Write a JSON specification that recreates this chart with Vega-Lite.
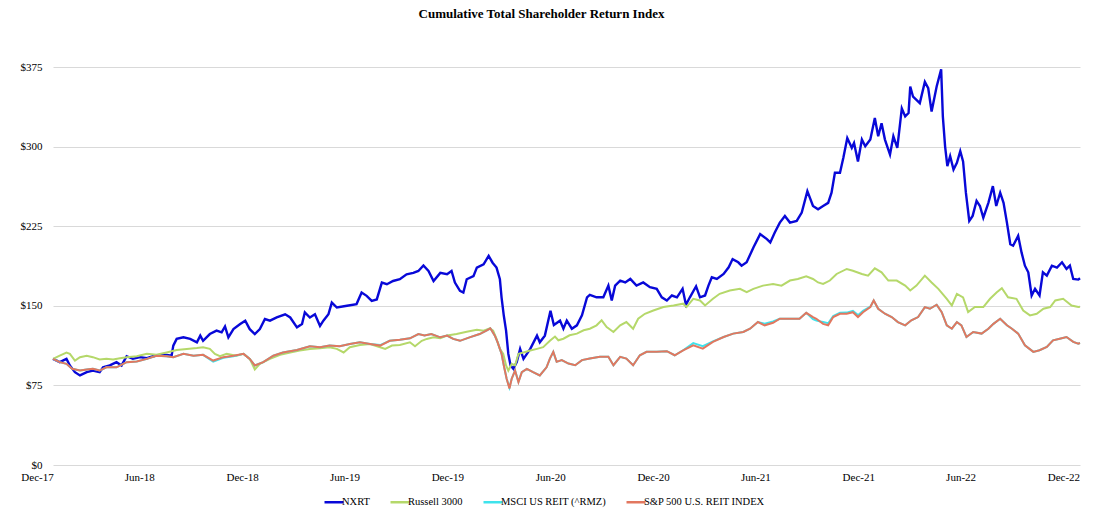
{
  "$schema": "https://vega.github.io/schema/vega-lite/v6.json",
  "width": 1027,
  "height": 398,
  "autosize": {"type": "none"},
  "padding": {"left": 53, "top": 67, "right": 15, "bottom": 46},
  "background": "white",
  "title": {
    "text": "Cumulative Total Shareholder Return Index",
    "font": "Liberation Serif",
    "fontSize": 13,
    "fontWeight": "bold",
    "color": "black",
    "anchor": "middle",
    "frame": "group",
    "offset": 40,
    "dx": -25
  },
  "config": {
    "view": {"stroke": null},
    "font": "Liberation Serif"
  },
  "datasets": {
    "nxrt": [
      {"d": "2017-12-29", "v": 100}, {"d": "2018-01-10", "v": 96.9}, {"d": "2018-01-22", "v": 100}, {"d": "2018-01-28", "v": 93.8},
      {"d": "2018-02-06", "v": 87.5}, {"d": "2018-02-15", "v": 84.4}, {"d": "2018-02-27", "v": 87.5}, {"d": "2018-03-10", "v": 89},
      {"d": "2018-03-22", "v": 87.5}, {"d": "2018-03-28", "v": 92}, {"d": "2018-04-09", "v": 93.8}, {"d": "2018-04-21", "v": 96.9},
      {"d": "2018-04-30", "v": 93.8}, {"d": "2018-05-09", "v": 102.5}, {"d": "2018-05-20", "v": 100}, {"d": "2018-06-02", "v": 101.6},
      {"d": "2018-06-14", "v": 100.6}, {"d": "2018-06-25", "v": 102.5}, {"d": "2018-07-07", "v": 103.8}, {"d": "2018-07-19", "v": 103.8},
      {"d": "2018-07-28", "v": 103}, {"d": "2018-07-31", "v": 112.5}, {"d": "2018-08-06", "v": 118.8}, {"d": "2018-08-18", "v": 120.3},
      {"d": "2018-08-30", "v": 118.8}, {"d": "2018-09-11", "v": 115.6}, {"d": "2018-09-17", "v": 121.9}, {"d": "2018-09-22", "v": 117},
      {"d": "2018-10-04", "v": 123.4}, {"d": "2018-10-16", "v": 126.6}, {"d": "2018-10-25", "v": 125}, {"d": "2018-10-31", "v": 130.6},
      {"d": "2018-11-06", "v": 120.3}, {"d": "2018-11-15", "v": 128}, {"d": "2018-11-27", "v": 132.8}, {"d": "2018-12-06", "v": 136},
      {"d": "2018-12-14", "v": 128}, {"d": "2018-12-23", "v": 123.4}, {"d": "2019-01-01", "v": 128}, {"d": "2019-01-10", "v": 137.5},
      {"d": "2019-01-19", "v": 136}, {"d": "2019-01-31", "v": 139}, {"d": "2019-02-15", "v": 142}, {"d": "2019-02-24", "v": 139},
      {"d": "2019-03-08", "v": 129.7}, {"d": "2019-03-17", "v": 132.8}, {"d": "2019-03-22", "v": 143.8}, {"d": "2019-03-31", "v": 139},
      {"d": "2019-04-09", "v": 142}, {"d": "2019-04-18", "v": 131}, {"d": "2019-04-24", "v": 136}, {"d": "2019-05-03", "v": 142},
      {"d": "2019-05-09", "v": 153}, {"d": "2019-05-18", "v": 148.4}, {"d": "2019-06-05", "v": 150}, {"d": "2019-06-22", "v": 151.6},
      {"d": "2019-07-01", "v": 162.5}, {"d": "2019-07-10", "v": 159.4}, {"d": "2019-07-19", "v": 154.7}, {"d": "2019-07-28", "v": 156},
      {"d": "2019-08-06", "v": 171.9}, {"d": "2019-08-15", "v": 170.3}, {"d": "2019-08-26", "v": 173.4}, {"d": "2019-09-07", "v": 175},
      {"d": "2019-09-19", "v": 179.7}, {"d": "2019-10-01", "v": 181}, {"d": "2019-10-10", "v": 182.8}, {"d": "2019-10-19", "v": 188},
      {"d": "2019-10-28", "v": 182.8}, {"d": "2019-11-06", "v": 173.4}, {"d": "2019-11-18", "v": 181}, {"d": "2019-11-30", "v": 179.7},
      {"d": "2019-12-08", "v": 182.8}, {"d": "2019-12-14", "v": 171.9}, {"d": "2019-12-23", "v": 164}, {"d": "2019-12-29", "v": 162.5},
      {"d": "2020-01-04", "v": 175}, {"d": "2020-01-16", "v": 178}, {"d": "2020-01-22", "v": 186}, {"d": "2020-02-03", "v": 189},
      {"d": "2020-02-12", "v": 197}, {"d": "2020-02-19", "v": 190.6}, {"d": "2020-02-26", "v": 186}, {"d": "2020-03-03", "v": 175},
      {"d": "2020-03-06", "v": 157.8}, {"d": "2020-03-10", "v": 140.6}, {"d": "2020-03-14", "v": 126.6}, {"d": "2020-03-18", "v": 104.7},
      {"d": "2020-03-22", "v": 93.8}, {"d": "2020-03-27", "v": 90.6}, {"d": "2020-04-02", "v": 96.9}, {"d": "2020-04-08", "v": 109.4},
      {"d": "2020-04-14", "v": 100}, {"d": "2020-04-26", "v": 109.4}, {"d": "2020-05-08", "v": 121.9}, {"d": "2020-05-13", "v": 115.6},
      {"d": "2020-05-22", "v": 121.9}, {"d": "2020-06-01", "v": 145.3}, {"d": "2020-06-07", "v": 132}, {"d": "2020-06-18", "v": 136},
      {"d": "2020-06-24", "v": 128.4}, {"d": "2020-06-30", "v": 136}, {"d": "2020-07-09", "v": 128.4}, {"d": "2020-07-18", "v": 131.6},
      {"d": "2020-07-27", "v": 141}, {"d": "2020-08-05", "v": 158}, {"d": "2020-08-10", "v": 160.3}, {"d": "2020-08-22", "v": 158},
      {"d": "2020-09-03", "v": 158}, {"d": "2020-09-12", "v": 169}, {"d": "2020-09-18", "v": 155}, {"d": "2020-09-24", "v": 169},
      {"d": "2020-10-03", "v": 173.8}, {"d": "2020-10-12", "v": 172}, {"d": "2020-10-21", "v": 175.3}, {"d": "2020-11-01", "v": 169},
      {"d": "2020-11-13", "v": 172}, {"d": "2020-11-25", "v": 167.5}, {"d": "2020-12-07", "v": 166}, {"d": "2020-12-16", "v": 158},
      {"d": "2020-12-25", "v": 155}, {"d": "2021-01-03", "v": 159.7}, {"d": "2021-01-12", "v": 158}, {"d": "2021-01-22", "v": 166},
      {"d": "2021-01-28", "v": 151}, {"d": "2021-02-04", "v": 158}, {"d": "2021-02-15", "v": 168.4}, {"d": "2021-02-22", "v": 158},
      {"d": "2021-03-03", "v": 159.7}, {"d": "2021-03-09", "v": 169}, {"d": "2021-03-15", "v": 176.9}, {"d": "2021-03-24", "v": 175.3},
      {"d": "2021-04-05", "v": 180}, {"d": "2021-04-14", "v": 186.3}, {"d": "2021-04-21", "v": 194}, {"d": "2021-05-01", "v": 191},
      {"d": "2021-05-07", "v": 187.8}, {"d": "2021-05-16", "v": 191}, {"d": "2021-05-28", "v": 205}, {"d": "2021-06-09", "v": 217.5},
      {"d": "2021-06-21", "v": 212.8}, {"d": "2021-06-27", "v": 209.7}, {"d": "2021-07-05", "v": 219}, {"d": "2021-07-14", "v": 228.4},
      {"d": "2021-07-23", "v": 234.7}, {"d": "2021-08-01", "v": 228.4}, {"d": "2021-08-13", "v": 230}, {"d": "2021-08-22", "v": 237.8},
      {"d": "2021-09-01", "v": 258}, {"d": "2021-09-11", "v": 244}, {"d": "2021-09-20", "v": 241}, {"d": "2021-09-29", "v": 244},
      {"d": "2021-10-08", "v": 247}, {"d": "2021-10-14", "v": 256.6}, {"d": "2021-10-20", "v": 275.3}, {"d": "2021-10-29", "v": 275.3},
      {"d": "2021-11-04", "v": 289.4}, {"d": "2021-11-11", "v": 308}, {"d": "2021-11-19", "v": 298.8}, {"d": "2021-11-23", "v": 303.4},
      {"d": "2021-11-30", "v": 286}, {"d": "2021-12-07", "v": 306.6}, {"d": "2021-12-13", "v": 300.3}, {"d": "2021-12-22", "v": 306.6},
      {"d": "2021-12-30", "v": 326.9}, {"d": "2022-01-05", "v": 309.7}, {"d": "2022-01-11", "v": 322}, {"d": "2022-01-17", "v": 306.6},
      {"d": "2022-01-26", "v": 292.5}, {"d": "2022-02-01", "v": 309.7}, {"d": "2022-02-08", "v": 298.8}, {"d": "2022-02-16", "v": 336},
      {"d": "2022-02-22", "v": 328.4}, {"d": "2022-02-28", "v": 331.6}, {"d": "2022-03-03", "v": 356.6}, {"d": "2022-03-08", "v": 347},
      {"d": "2022-03-14", "v": 344}, {"d": "2022-03-20", "v": 341}, {"d": "2022-03-29", "v": 361}, {"d": "2022-04-04", "v": 355},
      {"d": "2022-04-10", "v": 333}, {"d": "2022-04-19", "v": 356.6}, {"d": "2022-04-27", "v": 372.8}, {"d": "2022-04-30", "v": 328.4},
      {"d": "2022-05-04", "v": 300.3}, {"d": "2022-05-08", "v": 281.6}, {"d": "2022-05-13", "v": 291}, {"d": "2022-05-19", "v": 278.4},
      {"d": "2022-05-25", "v": 284.7}, {"d": "2022-05-31", "v": 295.6}, {"d": "2022-06-05", "v": 286}, {"d": "2022-06-10", "v": 256.6},
      {"d": "2022-06-16", "v": 230}, {"d": "2022-06-22", "v": 234.7}, {"d": "2022-06-29", "v": 248.8}, {"d": "2022-07-05", "v": 244},
      {"d": "2022-07-11", "v": 233}, {"d": "2022-07-20", "v": 247}, {"d": "2022-07-28", "v": 262.8}, {"d": "2022-08-03", "v": 244},
      {"d": "2022-08-10", "v": 256.6}, {"d": "2022-08-16", "v": 247}, {"d": "2022-08-22", "v": 228.4}, {"d": "2022-08-28", "v": 208},
      {"d": "2022-09-02", "v": 206.6}, {"d": "2022-09-11", "v": 216}, {"d": "2022-09-17", "v": 200.3}, {"d": "2022-09-23", "v": 187.8},
      {"d": "2022-09-29", "v": 181.6}, {"d": "2022-10-05", "v": 159.7}, {"d": "2022-10-11", "v": 166}, {"d": "2022-10-19", "v": 159.7},
      {"d": "2022-10-25", "v": 181.6}, {"d": "2022-11-01", "v": 178.4}, {"d": "2022-11-10", "v": 187.8}, {"d": "2022-11-19", "v": 186},
      {"d": "2022-11-28", "v": 191}, {"d": "2022-12-06", "v": 184.7}, {"d": "2022-12-12", "v": 187.8}, {"d": "2022-12-18", "v": 175.3},
      {"d": "2022-12-27", "v": 174.7}, {"d": "2022-12-30", "v": 176}
    ],
    "r3000": [
      {"d": "2017-12-29", "v": 100}, {"d": "2018-01-10", "v": 103}, {"d": "2018-01-22", "v": 106}, {"d": "2018-01-28", "v": 104.7},
      {"d": "2018-02-06", "v": 98.4}, {"d": "2018-02-15", "v": 101.6}, {"d": "2018-02-27", "v": 103}, {"d": "2018-03-10", "v": 101.6},
      {"d": "2018-03-22", "v": 99.4}, {"d": "2018-04-03", "v": 100}, {"d": "2018-04-15", "v": 99.4}, {"d": "2018-04-27", "v": 100.6},
      {"d": "2018-05-09", "v": 101.6}, {"d": "2018-05-27", "v": 102.5}, {"d": "2018-06-14", "v": 104.7}, {"d": "2018-07-01", "v": 103.8},
      {"d": "2018-07-19", "v": 106}, {"d": "2018-08-06", "v": 108.4}, {"d": "2018-08-24", "v": 109.4}, {"d": "2018-09-11", "v": 110.3},
      {"d": "2018-09-22", "v": 111}, {"d": "2018-10-04", "v": 109.4}, {"d": "2018-10-13", "v": 104.7}, {"d": "2018-10-22", "v": 102.5},
      {"d": "2018-11-03", "v": 104.7}, {"d": "2018-11-20", "v": 103}, {"d": "2018-12-03", "v": 104.7}, {"d": "2018-12-14", "v": 100},
      {"d": "2018-12-23", "v": 90}, {"d": "2019-01-01", "v": 95.3}, {"d": "2019-01-19", "v": 100}, {"d": "2019-02-06", "v": 103.8},
      {"d": "2019-02-24", "v": 106}, {"d": "2019-03-13", "v": 107.8}, {"d": "2019-03-31", "v": 109.4}, {"d": "2019-04-18", "v": 110},
      {"d": "2019-05-05", "v": 111}, {"d": "2019-05-18", "v": 109.4}, {"d": "2019-05-30", "v": 106}, {"d": "2019-06-10", "v": 111},
      {"d": "2019-06-28", "v": 113}, {"d": "2019-07-16", "v": 114}, {"d": "2019-08-03", "v": 111}, {"d": "2019-08-12", "v": 109.4},
      {"d": "2019-08-24", "v": 112.5}, {"d": "2019-09-07", "v": 113}, {"d": "2019-09-25", "v": 115.6}, {"d": "2019-10-04", "v": 111.9},
      {"d": "2019-10-16", "v": 117}, {"d": "2019-10-25", "v": 118.8}, {"d": "2019-11-06", "v": 120.3}, {"d": "2019-11-18", "v": 119.4},
      {"d": "2019-11-30", "v": 122}, {"d": "2019-12-17", "v": 123.4}, {"d": "2020-01-04", "v": 125.6}, {"d": "2020-01-22", "v": 127.5},
      {"d": "2020-02-03", "v": 126.6}, {"d": "2020-02-14", "v": 128.8}, {"d": "2020-02-20", "v": 126.6}, {"d": "2020-02-26", "v": 118.8},
      {"d": "2020-03-03", "v": 109.4}, {"d": "2020-03-09", "v": 104.7}, {"d": "2020-03-14", "v": 93.8}, {"d": "2020-03-18", "v": 89},
      {"d": "2020-03-24", "v": 95.3}, {"d": "2020-03-30", "v": 93.8}, {"d": "2020-04-05", "v": 104.7}, {"d": "2020-04-14", "v": 106},
      {"d": "2020-04-26", "v": 107.8}, {"d": "2020-05-08", "v": 109.4}, {"d": "2020-05-19", "v": 111}, {"d": "2020-05-31", "v": 117},
      {"d": "2020-06-09", "v": 121}, {"d": "2020-06-15", "v": 117.5}, {"d": "2020-06-24", "v": 119}, {"d": "2020-07-05", "v": 122.2},
      {"d": "2020-07-18", "v": 123.8}, {"d": "2020-07-30", "v": 126.9}, {"d": "2020-08-10", "v": 128.4}, {"d": "2020-08-22", "v": 131.6},
      {"d": "2020-08-31", "v": 136.3}, {"d": "2020-09-09", "v": 130}, {"d": "2020-09-21", "v": 125.3}, {"d": "2020-10-03", "v": 131.6},
      {"d": "2020-10-14", "v": 134.7}, {"d": "2020-10-26", "v": 128.4}, {"d": "2020-11-04", "v": 137.8}, {"d": "2020-11-16", "v": 142.5},
      {"d": "2020-12-01", "v": 145.6}, {"d": "2020-12-19", "v": 148.8}, {"d": "2021-01-06", "v": 150.3}, {"d": "2021-01-23", "v": 152},
      {"d": "2021-01-29", "v": 148.8}, {"d": "2021-02-10", "v": 156.6}, {"d": "2021-02-22", "v": 155}, {"d": "2021-03-03", "v": 150.3},
      {"d": "2021-03-17", "v": 156.6}, {"d": "2021-03-29", "v": 161.3}, {"d": "2021-04-16", "v": 164.4}, {"d": "2021-05-04", "v": 166},
      {"d": "2021-05-16", "v": 162.8}, {"d": "2021-05-28", "v": 166}, {"d": "2021-06-14", "v": 169}, {"d": "2021-07-02", "v": 170.6},
      {"d": "2021-07-17", "v": 169}, {"d": "2021-08-01", "v": 173.8}, {"d": "2021-08-15", "v": 175.3}, {"d": "2021-08-30", "v": 177.8},
      {"d": "2021-09-11", "v": 175.3}, {"d": "2021-09-20", "v": 172}, {"d": "2021-09-29", "v": 170.6}, {"d": "2021-10-11", "v": 173.8},
      {"d": "2021-10-23", "v": 180}, {"d": "2021-11-10", "v": 184.7}, {"d": "2021-11-21", "v": 183}, {"d": "2021-12-07", "v": 180},
      {"d": "2021-12-18", "v": 178.4}, {"d": "2021-12-30", "v": 185.3}, {"d": "2022-01-11", "v": 181.6}, {"d": "2022-01-23", "v": 173.8},
      {"d": "2022-02-07", "v": 173.8}, {"d": "2022-02-22", "v": 169}, {"d": "2022-03-03", "v": 164.4}, {"d": "2022-03-14", "v": 169},
      {"d": "2022-03-29", "v": 178.4}, {"d": "2022-04-10", "v": 172}, {"d": "2022-04-22", "v": 166}, {"d": "2022-05-07", "v": 156.6},
      {"d": "2022-05-16", "v": 150.3}, {"d": "2022-05-25", "v": 161.3}, {"d": "2022-06-05", "v": 158}, {"d": "2022-06-14", "v": 144},
      {"d": "2022-06-26", "v": 148.8}, {"d": "2022-07-11", "v": 148.8}, {"d": "2022-07-23", "v": 156.6}, {"d": "2022-08-04", "v": 162.8},
      {"d": "2022-08-13", "v": 166.6}, {"d": "2022-08-24", "v": 158}, {"d": "2022-09-08", "v": 156.6}, {"d": "2022-09-20", "v": 145.6},
      {"d": "2022-10-02", "v": 141}, {"d": "2022-10-14", "v": 142.5}, {"d": "2022-10-26", "v": 147.2}, {"d": "2022-11-07", "v": 148.8},
      {"d": "2022-11-16", "v": 155}, {"d": "2022-11-30", "v": 156.6}, {"d": "2022-12-15", "v": 150.3}, {"d": "2022-12-27", "v": 148.8},
      {"d": "2022-12-30", "v": 149}
    ],
    "msci": [
      {"d": "2017-12-29", "v": 100}, {"d": "2018-01-10", "v": 96.9}, {"d": "2018-01-22", "v": 95.3}, {"d": "2018-02-01", "v": 90.6},
      {"d": "2018-02-15", "v": 89}, {"d": "2018-02-27", "v": 90}, {"d": "2018-03-10", "v": 90.6}, {"d": "2018-03-22", "v": 89},
      {"d": "2018-04-03", "v": 92}, {"d": "2018-04-21", "v": 92}, {"d": "2018-05-09", "v": 96.9}, {"d": "2018-05-27", "v": 97.5},
      {"d": "2018-06-14", "v": 100}, {"d": "2018-07-01", "v": 103}, {"d": "2018-07-19", "v": 102.5}, {"d": "2018-07-31", "v": 101.6},
      {"d": "2018-08-18", "v": 104.7}, {"d": "2018-09-05", "v": 103}, {"d": "2018-09-22", "v": 103.8}, {"d": "2018-10-10", "v": 97.5},
      {"d": "2018-10-28", "v": 101}, {"d": "2018-11-15", "v": 102.5}, {"d": "2018-12-03", "v": 104.7}, {"d": "2018-12-14", "v": 100},
      {"d": "2018-12-23", "v": 93.8}, {"d": "2019-01-07", "v": 96.9}, {"d": "2019-01-25", "v": 103}, {"d": "2019-02-11", "v": 106},
      {"d": "2019-03-08", "v": 108.4}, {"d": "2019-03-31", "v": 111.9}, {"d": "2019-04-18", "v": 111}, {"d": "2019-05-05", "v": 112.5},
      {"d": "2019-05-23", "v": 111.9}, {"d": "2019-06-10", "v": 114}, {"d": "2019-06-28", "v": 115.6}, {"d": "2019-07-16", "v": 114},
      {"d": "2019-08-03", "v": 113}, {"d": "2019-08-20", "v": 117}, {"d": "2019-09-07", "v": 118}, {"d": "2019-09-25", "v": 119.4},
      {"d": "2019-10-10", "v": 123.4}, {"d": "2019-10-21", "v": 122}, {"d": "2019-11-02", "v": 123.4}, {"d": "2019-11-18", "v": 120.3},
      {"d": "2019-11-30", "v": 122}, {"d": "2019-12-11", "v": 118.8}, {"d": "2019-12-23", "v": 117}, {"d": "2020-01-09", "v": 120.3},
      {"d": "2020-01-27", "v": 123.4}, {"d": "2020-02-08", "v": 126.6}, {"d": "2020-02-15", "v": 128.8}, {"d": "2020-02-23", "v": 121.9},
      {"d": "2020-02-28", "v": 115.6}, {"d": "2020-03-06", "v": 104.7}, {"d": "2020-03-10", "v": 93.8}, {"d": "2020-03-15", "v": 81.3},
      {"d": "2020-03-20", "v": 73}, {"d": "2020-03-24", "v": 81.3}, {"d": "2020-03-30", "v": 89}, {"d": "2020-04-05", "v": 78.5},
      {"d": "2020-04-11", "v": 87.5}, {"d": "2020-04-20", "v": 90.6}, {"d": "2020-05-01", "v": 87.5}, {"d": "2020-05-13", "v": 84.4},
      {"d": "2020-05-25", "v": 92}, {"d": "2020-05-31", "v": 100.3}, {"d": "2020-06-06", "v": 106.6}, {"d": "2020-06-12", "v": 97.2},
      {"d": "2020-06-21", "v": 98.8}, {"d": "2020-07-03", "v": 95.6}, {"d": "2020-07-15", "v": 94}, {"d": "2020-07-27", "v": 98.8},
      {"d": "2020-08-10", "v": 100.3}, {"d": "2020-08-28", "v": 101.9}, {"d": "2020-09-12", "v": 101.9}, {"d": "2020-09-21", "v": 94},
      {"d": "2020-10-03", "v": 101.9}, {"d": "2020-10-14", "v": 100.3}, {"d": "2020-10-26", "v": 94}, {"d": "2020-11-07", "v": 103.4},
      {"d": "2020-11-19", "v": 106.6}, {"d": "2020-12-07", "v": 106.6}, {"d": "2020-12-25", "v": 107.2}, {"d": "2021-01-08", "v": 103.4},
      {"d": "2021-01-23", "v": 108.1}, {"d": "2021-02-10", "v": 114.8}, {"d": "2021-02-27", "v": 112}, {"d": "2021-03-17", "v": 116.5},
      {"d": "2021-04-05", "v": 120.6}, {"d": "2021-04-22", "v": 123.8}, {"d": "2021-05-10", "v": 125.3}, {"d": "2021-05-22", "v": 128.4},
      {"d": "2021-06-05", "v": 134.7}, {"d": "2021-06-17", "v": 133.2}, {"d": "2021-07-02", "v": 135.2}, {"d": "2021-07-14", "v": 137.8},
      {"d": "2021-08-01", "v": 137.8}, {"d": "2021-08-18", "v": 137.8}, {"d": "2021-08-30", "v": 143.4}, {"d": "2021-09-11", "v": 137.5},
      {"d": "2021-09-17", "v": 136}, {"d": "2021-09-29", "v": 134.8}, {"d": "2021-10-08", "v": 133.6}, {"d": "2021-10-17", "v": 140.4},
      {"d": "2021-10-29", "v": 143.5}, {"d": "2021-11-10", "v": 143.6}, {"d": "2021-11-21", "v": 145.2}, {"d": "2021-11-30", "v": 141.2},
      {"d": "2021-12-09", "v": 145.3}, {"d": "2021-12-22", "v": 149.2}, {"d": "2021-12-28", "v": 155}, {"d": "2022-01-05", "v": 147.2},
      {"d": "2022-01-17", "v": 142.5}, {"d": "2022-01-29", "v": 139.4}, {"d": "2022-02-09", "v": 134.7}, {"d": "2022-02-22", "v": 131.6},
      {"d": "2022-03-05", "v": 136.3}, {"d": "2022-03-17", "v": 139.4}, {"d": "2022-03-29", "v": 148.8}, {"d": "2022-04-07", "v": 147.2},
      {"d": "2022-04-19", "v": 151}, {"d": "2022-04-28", "v": 144}, {"d": "2022-05-07", "v": 131.6}, {"d": "2022-05-16", "v": 128.4},
      {"d": "2022-05-25", "v": 134.7}, {"d": "2022-06-02", "v": 131.6}, {"d": "2022-06-11", "v": 120.6}, {"d": "2022-06-23", "v": 125.3},
      {"d": "2022-07-08", "v": 123.8}, {"d": "2022-07-20", "v": 128.4}, {"d": "2022-07-29", "v": 133}, {"d": "2022-08-10", "v": 137.8},
      {"d": "2022-08-22", "v": 131.6}, {"d": "2022-08-31", "v": 128.4}, {"d": "2022-09-11", "v": 123.8}, {"d": "2022-09-23", "v": 112.8},
      {"d": "2022-10-08", "v": 106.6}, {"d": "2022-10-19", "v": 108.1}, {"d": "2022-11-01", "v": 111.3}, {"d": "2022-11-12", "v": 117.5},
      {"d": "2022-11-24", "v": 119}, {"d": "2022-12-06", "v": 120.6}, {"d": "2022-12-18", "v": 116}, {"d": "2022-12-27", "v": 114.4},
      {"d": "2022-12-30", "v": 115}
    ],
    "sp": [
      {"d": "2017-12-29", "v": 100}, {"d": "2018-01-10", "v": 96.9}, {"d": "2018-01-22", "v": 95.3}, {"d": "2018-02-01", "v": 90.6},
      {"d": "2018-02-15", "v": 89}, {"d": "2018-02-27", "v": 90}, {"d": "2018-03-10", "v": 90.6}, {"d": "2018-03-22", "v": 89},
      {"d": "2018-04-03", "v": 92}, {"d": "2018-04-21", "v": 92}, {"d": "2018-05-09", "v": 96.9}, {"d": "2018-05-27", "v": 97.5},
      {"d": "2018-06-14", "v": 100}, {"d": "2018-07-01", "v": 103}, {"d": "2018-07-19", "v": 102.5}, {"d": "2018-07-31", "v": 101.6},
      {"d": "2018-08-18", "v": 104.7}, {"d": "2018-09-05", "v": 103}, {"d": "2018-09-22", "v": 103.8}, {"d": "2018-10-10", "v": 98.4},
      {"d": "2018-10-28", "v": 101.6}, {"d": "2018-11-15", "v": 103}, {"d": "2018-12-03", "v": 104.7}, {"d": "2018-12-14", "v": 100},
      {"d": "2018-12-23", "v": 93.8}, {"d": "2019-01-07", "v": 96.9}, {"d": "2019-01-25", "v": 103}, {"d": "2019-02-11", "v": 106},
      {"d": "2019-03-08", "v": 108.4}, {"d": "2019-03-31", "v": 111.9}, {"d": "2019-04-18", "v": 111}, {"d": "2019-05-05", "v": 112.5},
      {"d": "2019-05-23", "v": 111.9}, {"d": "2019-06-10", "v": 114}, {"d": "2019-06-28", "v": 115.6}, {"d": "2019-07-16", "v": 114},
      {"d": "2019-08-03", "v": 112.5}, {"d": "2019-08-20", "v": 117}, {"d": "2019-09-07", "v": 118}, {"d": "2019-09-25", "v": 119.4},
      {"d": "2019-10-10", "v": 123.4}, {"d": "2019-10-21", "v": 122}, {"d": "2019-11-02", "v": 123.4}, {"d": "2019-11-18", "v": 120.3},
      {"d": "2019-11-30", "v": 122}, {"d": "2019-12-11", "v": 118.8}, {"d": "2019-12-23", "v": 117}, {"d": "2020-01-09", "v": 120.3},
      {"d": "2020-01-27", "v": 123.4}, {"d": "2020-02-08", "v": 126.6}, {"d": "2020-02-15", "v": 128.8}, {"d": "2020-02-23", "v": 121.9},
      {"d": "2020-02-28", "v": 115.6}, {"d": "2020-03-06", "v": 104.7}, {"d": "2020-03-10", "v": 93.8}, {"d": "2020-03-15", "v": 81.3},
      {"d": "2020-03-20", "v": 72}, {"d": "2020-03-24", "v": 81.3}, {"d": "2020-03-30", "v": 89}, {"d": "2020-04-05", "v": 78},
      {"d": "2020-04-11", "v": 87.5}, {"d": "2020-04-20", "v": 90.6}, {"d": "2020-05-01", "v": 87.5}, {"d": "2020-05-13", "v": 84.4},
      {"d": "2020-05-25", "v": 92}, {"d": "2020-05-31", "v": 100.3}, {"d": "2020-06-06", "v": 106.6}, {"d": "2020-06-12", "v": 97.2},
      {"d": "2020-06-21", "v": 98.8}, {"d": "2020-07-03", "v": 95.6}, {"d": "2020-07-15", "v": 94}, {"d": "2020-07-27", "v": 98.8},
      {"d": "2020-08-10", "v": 100.3}, {"d": "2020-08-28", "v": 101.9}, {"d": "2020-09-12", "v": 101.9}, {"d": "2020-09-21", "v": 94},
      {"d": "2020-10-03", "v": 101.9}, {"d": "2020-10-14", "v": 100.3}, {"d": "2020-10-26", "v": 94}, {"d": "2020-11-07", "v": 103.4},
      {"d": "2020-11-19", "v": 106.6}, {"d": "2020-12-07", "v": 106.6}, {"d": "2020-12-25", "v": 107.2}, {"d": "2021-01-08", "v": 103.4},
      {"d": "2021-01-23", "v": 108.1}, {"d": "2021-02-10", "v": 112.8}, {"d": "2021-02-27", "v": 109.7}, {"d": "2021-03-17", "v": 116},
      {"d": "2021-04-05", "v": 120.6}, {"d": "2021-04-22", "v": 123.8}, {"d": "2021-05-10", "v": 125.3}, {"d": "2021-05-22", "v": 128.4},
      {"d": "2021-06-05", "v": 134.7}, {"d": "2021-06-17", "v": 131.6}, {"d": "2021-07-02", "v": 134}, {"d": "2021-07-14", "v": 137.8},
      {"d": "2021-08-01", "v": 137.8}, {"d": "2021-08-18", "v": 137.8}, {"d": "2021-08-30", "v": 143.4}, {"d": "2021-09-11", "v": 139.4},
      {"d": "2021-09-17", "v": 137.8}, {"d": "2021-09-29", "v": 133}, {"d": "2021-10-08", "v": 131.6}, {"d": "2021-10-17", "v": 139.4},
      {"d": "2021-10-29", "v": 142.5}, {"d": "2021-11-10", "v": 142.5}, {"d": "2021-11-21", "v": 144}, {"d": "2021-11-30", "v": 139.4},
      {"d": "2021-12-09", "v": 144}, {"d": "2021-12-22", "v": 148.8}, {"d": "2021-12-28", "v": 155}, {"d": "2022-01-05", "v": 147.2},
      {"d": "2022-01-17", "v": 142.5}, {"d": "2022-01-29", "v": 139.4}, {"d": "2022-02-09", "v": 134.7}, {"d": "2022-02-22", "v": 131.6},
      {"d": "2022-03-05", "v": 136.3}, {"d": "2022-03-17", "v": 139.4}, {"d": "2022-03-29", "v": 148.8}, {"d": "2022-04-07", "v": 147.2},
      {"d": "2022-04-19", "v": 151}, {"d": "2022-04-28", "v": 144}, {"d": "2022-05-07", "v": 131.6}, {"d": "2022-05-16", "v": 128.4},
      {"d": "2022-05-25", "v": 134.7}, {"d": "2022-06-02", "v": 131.6}, {"d": "2022-06-11", "v": 120.6}, {"d": "2022-06-23", "v": 125.3},
      {"d": "2022-07-08", "v": 123.8}, {"d": "2022-07-20", "v": 128.4}, {"d": "2022-07-29", "v": 133}, {"d": "2022-08-10", "v": 137.8},
      {"d": "2022-08-22", "v": 131.6}, {"d": "2022-08-31", "v": 128.4}, {"d": "2022-09-11", "v": 123.8}, {"d": "2022-09-23", "v": 112.8},
      {"d": "2022-10-08", "v": 106.6}, {"d": "2022-10-19", "v": 108.1}, {"d": "2022-11-01", "v": 111.3}, {"d": "2022-11-12", "v": 117.5},
      {"d": "2022-11-24", "v": 119}, {"d": "2022-12-06", "v": 120.6}, {"d": "2022-12-18", "v": 116}, {"d": "2022-12-27", "v": 114.4},
      {"d": "2022-12-30", "v": 115}
    ]
  },
  "encoding": {
    "x": {
      "field": "d",
      "type": "temporal",
      "title": null,
      "scale": {
        "type": "utc",
        "domain": [
          {"year": 2017, "month": 12, "date": 29, "utc": true},
          {"year": 2022, "month": 12, "date": 30, "utc": true}
        ]
      },
      "axis": {
        "values": [
          {"year": 2017, "month": 12, "date": 29, "utc": true},
          {"year": 2018, "month": 6, "date": 29, "utc": true},
          {"year": 2018, "month": 12, "date": 29, "utc": true},
          {"year": 2019, "month": 6, "date": 29, "utc": true},
          {"year": 2019, "month": 12, "date": 29, "utc": true},
          {"year": 2020, "month": 6, "date": 29, "utc": true},
          {"year": 2020, "month": 12, "date": 29, "utc": true},
          {"year": 2021, "month": 6, "date": 29, "utc": true},
          {"year": 2021, "month": 12, "date": 29, "utc": true},
          {"year": 2022, "month": 6, "date": 29, "utc": true},
          {"year": 2022, "month": 12, "date": 29, "utc": true}
        ],
        "labelExpr": "utcFormat(datum.value, '%b-%y')",
        "labelOffset": -16,
        "labelFlush": false,
        "labelBound": false,
        "labelOverlap": false,
        "labelFont": "Liberation Serif",
        "labelFontSize": 11,
        "labelColor": "black",
        "labelPadding": 6,
        "ticks": false,
        "domain": false,
        "grid": false
      }
    },
    "y": {
      "field": "v",
      "type": "quantitative",
      "title": null,
      "scale": {"domain": [0, 375], "nice": false, "zero": true},
      "axis": {
        "values": [0, 75, 150, 225, 300, 375],
        "labelExpr": "'$' + datum.value",
        "labelFont": "Liberation Serif",
        "labelFontSize": 11,
        "labelColor": "black",
        "labelPadding": 11,
        "ticks": false,
        "domain": false,
        "grid": true,
        "gridColor": "#d9d9d9",
        "gridWidth": 1
      }
    }
  },
  "layer": [
    {
      "data": {"name": "nxrt"},
      "mark": {"type": "line", "strokeWidth": 2.4, "interpolate": "linear"},
      "encoding": {
        "color": {
          "datum": "NXRT",
          "type": "nominal",
          "scale": {
            "domain": ["NXRT", "Russell 3000", "MSCI US REIT (^RMZ)", "S&P 500 U.S. REIT INDEX"],
            "range": ["#0808d8", "#b5d86a", "#3fe3ec", "#e2775f"]
          },
          "legend": {
            "title": null,
            "orient": "none",
            "legendX": 270,
            "legendY": 424,
            "direction": "horizontal",
            "symbolType": "stroke",
            "symbolSize": 361,
            "symbolStrokeWidth": 2.5,
            "labelFont": "Liberation Serif",
            "labelFontSize": 10.5,
            "labelColor": "black",
            "labelOffset": -3,
            "columnPadding": 15
          }
        }
      }
    },
    {
      "data": {"name": "r3000"},
      "mark": {"type": "line", "strokeWidth": 2},
      "encoding": {"color": {"datum": "Russell 3000", "type": "nominal"}}
    },
    {
      "data": {"name": "msci"},
      "mark": {"type": "line", "strokeWidth": 2},
      "encoding": {"color": {"datum": "MSCI US REIT (^RMZ)", "type": "nominal"}}
    },
    {
      "data": {"name": "sp"},
      "mark": {"type": "line", "strokeWidth": 2},
      "encoding": {"color": {"datum": "S&P 500 U.S. REIT INDEX", "type": "nominal"}}
    }
  ]
}
